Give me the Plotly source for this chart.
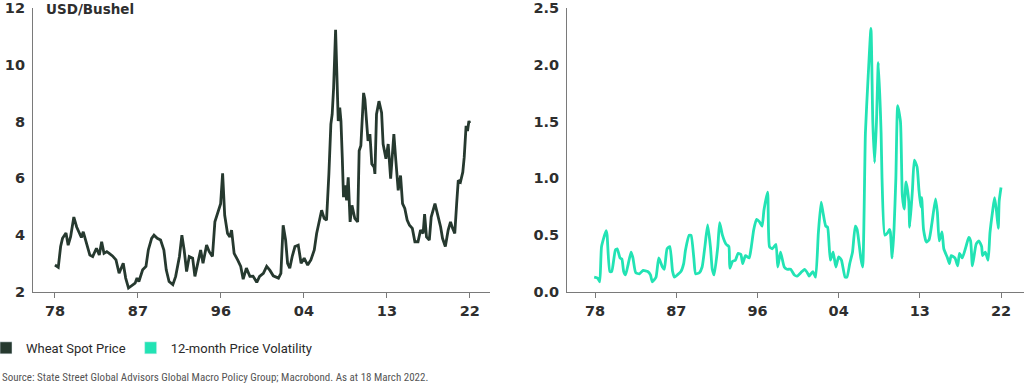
import plotly.graph_objects as go
from plotly.subplots import make_subplots

# ---- Data ----
price_year = [1978.0, 1978.35, 1978.6, 1978.8, 1979.17, 1979.4, 1979.66, 1980.0, 1980.3, 1980.6,
              1980.8, 1981.0, 1981.36, 1981.7, 1982.0, 1982.4, 1982.7, 1982.95, 1983.2, 1983.5,
              1983.75, 1984.1, 1984.47, 1984.8, 1985.24, 1985.5, 1985.8, 1986.1, 1986.5, 1986.7,
              1986.9, 1987.3, 1987.65, 1987.9, 1988.25, 1988.5, 1988.85, 1989.2, 1989.55, 1989.8,
              1990.1, 1990.5, 1990.8, 1991.2, 1991.46, 1991.7, 1991.96, 1992.24, 1992.6, 1992.84,
              1993.2, 1993.45, 1993.7, 1994.08, 1994.36, 1994.7, 1994.96, 1995.3, 1995.57, 1995.78,
              1996.0, 1996.3, 1996.55, 1996.73, 1997.0, 1997.37, 1997.7, 1997.96, 1998.3, 1998.67,
              1999.0, 1999.4, 1999.7, 2000.1, 2000.45, 2000.8, 2001.15, 2001.7, 2001.96, 2002.2,
              2002.46, 2002.67, 2002.9, 2003.16, 2003.45, 2003.8, 2004.1, 2004.43, 2004.8, 2005.14,
              2005.5, 2005.75, 2006.0, 2006.28, 2006.55, 2006.8, 2007.05, 2007.26, 2007.4, 2007.55,
              2007.76, 2007.9, 2008.04, 2008.2, 2008.33, 2008.47, 2008.6, 2008.75, 2008.93, 2009.1,
              2009.3, 2009.5, 2009.8, 2010.1, 2010.26, 2010.44, 2010.58, 2010.73, 2010.87, 2011.05,
              2011.2, 2011.4, 2011.6, 2011.85, 2011.93, 2012.1, 2012.36, 2012.64, 2012.8, 2013.1,
              2013.34, 2013.6, 2013.94, 2014.15, 2014.4, 2014.65, 2014.86, 2015.1, 2015.35, 2015.6,
              2015.9, 2016.17, 2016.5, 2016.77, 2017.04, 2017.2, 2017.4, 2017.7, 2017.9, 2018.3,
              2018.64, 2018.9, 2019.1, 2019.4, 2019.7, 2019.95, 2020.17, 2020.4, 2020.6, 2020.77,
              2021.0, 2021.25, 2021.4, 2021.6, 2021.75, 2021.9, 2022.0]
price_val = [2.95, 2.87, 3.6, 3.89, 4.08, 3.65, 3.95, 4.64, 4.29, 4.06,
             3.92, 4.12, 3.71, 3.30, 3.25, 3.54, 3.30, 3.77, 3.36, 3.42,
             3.36, 3.27, 3.13, 2.66, 3.01, 2.49, 2.14, 2.2, 2.31, 2.49,
             2.37, 2.78, 2.9, 3.48, 3.89, 4.0, 3.89, 3.83, 3.48, 2.78,
             2.37, 2.26, 2.55, 3.25, 4.0, 3.48, 2.72, 3.25, 3.19, 2.55,
             3.13, 3.48, 3.01, 3.65, 3.42, 3.25, 4.47, 4.82, 5.11, 6.18,
             4.7, 4.06, 3.94, 4.18, 3.36, 3.13, 2.9, 2.45, 2.84, 2.55,
             2.56, 2.34, 2.55, 2.66, 2.9, 2.76, 2.57, 2.49, 2.66, 4.35,
             3.83, 3.01, 2.84, 3.25, 3.6, 3.65, 3.01, 3.19, 2.95, 3.13,
             3.48, 4.06, 4.47, 4.88, 4.59, 4.53, 6.16, 7.91, 8.26, 9.19,
             11.23, 9.19, 8.02, 8.49, 8.02, 6.74, 5.34, 5.75, 5.23, 6.04,
             4.47, 5.05, 4.59, 4.47, 6.97, 7.15, 8.26, 9.01, 8.78, 8.02,
             7.32, 7.56, 6.51, 6.39, 6.16, 8.26, 8.72, 8.31, 7.21, 6.69,
             7.21, 5.99, 7.56, 6.63, 5.58, 6.10, 5.11, 4.94, 4.53, 4.35,
             4.24, 3.77, 3.77, 4.18, 4.06, 4.74, 3.94, 3.83, 4.64, 5.11,
             4.64, 4.29, 3.89, 3.6, 4.18, 4.47, 4.24, 4.06, 5.11, 5.93,
             5.87, 6.22, 6.74, 7.85, 7.67, 8.02, 7.95]

vol_year = [1977.9, 1978.3, 1978.5, 1978.7, 1979.2, 1979.3, 1979.6, 1979.8, 1980.2, 1980.4,
            1980.7, 1980.9, 1981.1, 1981.3, 1981.6, 1981.9, 1982.1, 1982.4, 1982.8, 1983.2,
            1983.7, 1984.0, 1984.2, 1984.6, 1984.9, 1985.3, 1985.5, 1985.8, 1986.1, 1986.4,
            1986.6, 1986.9, 1987.3, 1987.6, 1987.8, 1988.2, 1988.4, 1988.7, 1988.9, 1989.3,
            1989.6, 1989.9, 1990.2, 1990.5, 1990.7, 1990.9, 1991.3, 1991.5, 1991.8, 1992.2,
            1992.5, 1992.6, 1992.9, 1993.2, 1993.5, 1993.8, 1994.0, 1994.3, 1994.7, 1994.9,
            1995.2, 1995.5, 1995.8, 1996.1, 1996.3, 1996.7, 1996.9, 1997.2, 1997.6, 1997.8,
            1998.1, 1998.5, 1998.8, 1999.2, 1999.6, 1999.9, 2000.3, 2000.7, 2001.0, 2001.2,
            2001.6, 2001.9, 2002.2, 2002.5, 2002.7, 2003.0, 2003.2, 2003.5, 2003.8, 2004.1,
            2004.4, 2004.7, 2005.1, 2005.3, 2005.6, 2005.9, 2006.2, 2006.4, 2006.8, 2007.0,
            2007.3, 2007.6, 2007.9, 2008.1, 2008.3, 2008.5, 2008.7, 2009.0, 2009.1, 2009.4,
            2009.7, 2009.9, 2010.0, 2010.2, 2010.4, 2010.6, 2010.8, 2011.1, 2011.3, 2011.5,
            2011.7, 2012.0, 2012.1, 2012.4, 2012.6, 2012.9, 2013.1, 2013.3, 2013.4, 2013.6,
            2013.9, 2014.2, 2014.5, 2014.9, 2015.1, 2015.3, 2015.6, 2015.8, 2016.2, 2016.4,
            2016.6, 2017.0, 2017.3, 2017.5, 2017.8, 2018.2, 2018.5, 2018.7, 2018.9, 2019.3,
            2019.6, 2019.9, 2020.0, 2020.3, 2020.6, 2020.8, 2021.1, 2021.3, 2021.5, 2021.7,
            2021.8, 2022.0]
vol_val = [0.13, 0.12, 0.09, 0.40, 0.54, 0.50, 0.18, 0.18, 0.37, 0.38,
           0.30, 0.29, 0.18, 0.15, 0.25, 0.35, 0.30, 0.17, 0.16, 0.19,
           0.18, 0.15, 0.09, 0.13, 0.30, 0.22, 0.20, 0.38, 0.40, 0.18,
           0.13, 0.15, 0.18, 0.25, 0.37, 0.50, 0.50, 0.30, 0.16, 0.17,
           0.22, 0.40, 0.59, 0.40, 0.20, 0.15, 0.40, 0.61, 0.50, 0.42,
           0.40, 0.21, 0.27, 0.28, 0.34, 0.33, 0.25, 0.32, 0.30, 0.38,
           0.55, 0.64, 0.62, 0.58, 0.72, 0.88, 0.40, 0.38, 0.42, 0.22,
           0.35, 0.22, 0.20, 0.20, 0.15, 0.14, 0.17, 0.20, 0.17, 0.14,
           0.18, 0.13, 0.52, 0.79, 0.70, 0.58, 0.57, 0.28, 0.35, 0.22,
           0.31, 0.28, 0.13, 0.13, 0.25, 0.35, 0.58, 0.55, 0.30, 0.22,
           1.40, 1.90, 2.32, 1.50, 1.14, 1.50, 2.02, 1.40, 1.00, 0.50,
           0.52, 0.55, 0.53, 0.30, 0.55, 1.00, 1.64, 1.50, 0.85, 0.73,
           0.97, 0.80, 0.57, 0.90, 1.16, 1.10, 0.90, 0.75, 0.83, 0.55,
           0.44, 0.46, 0.60, 0.82, 0.70, 0.45, 0.53, 0.38, 0.30, 0.25,
           0.32, 0.30, 0.23, 0.34, 0.30, 0.40, 0.48, 0.45, 0.23, 0.42,
           0.45, 0.40, 0.32, 0.35, 0.28, 0.52, 0.72, 0.83, 0.72, 0.56,
           0.80, 0.92]

tick_years = [1978, 1986.8, 1995.6, 2004.4, 2013.2, 2022]
tick_text = ["78", "87", "96", "04", "13", "22"]

price_ticks = [2, 4, 6, 8, 10, 12]
vol_ticks = [0.0, 0.5, 1.0, 1.5, 2.0, 2.5]

DARK = "#26392f"
TEAL = "#22e3b4"
AXIS = "#7a7a7a"
TXT = "#2e2e2e"

fig = make_subplots(rows=1, cols=2)

fig.add_trace(go.Scatter(x=price_year, y=price_val, mode="lines",
                         line=dict(color=DARK, width=2.8), showlegend=False,
                         name="Wheat Spot Price"), row=1, col=1)
fig.add_trace(go.Scatter(x=vol_year, y=vol_val, mode="lines",
                         line=dict(color=TEAL, width=2.8, shape="spline", smoothing=0.5),
                         showlegend=False, name="12-month Price Volatility"), row=1, col=2)

# legend entries (square swatches)
fig.add_trace(go.Bar(x=[None], y=[None], name="Wheat Spot Price",
                     marker=dict(color=DARK), showlegend=True), row=1, col=1)
fig.add_trace(go.Bar(x=[None], y=[None], name="12-month Price Volatility",
                     marker=dict(color=TEAL), showlegend=True), row=1, col=2)

tickfont = dict(family="DejaVu Sans", size=14.5, color=TXT, weight="bold")

common_x = dict(tickmode="array", tickvals=tick_years, ticktext=tick_text,
                showgrid=False, zeroline=False, showline=True, linecolor=AXIS,
                linewidth=1.2, ticks="outside", ticklen=5, tickcolor=AXIS,
                tickfont=tickfont)
common_y = dict(showgrid=False, zeroline=False, showline=True, linecolor=AXIS,
                linewidth=1.2, ticks="", tickfont=tickfont,
                ticklabeloverflow="allow", automargin=False)

fig.update_xaxes(common_x)
fig.update_yaxes(common_y)

fig.update_layout(
    xaxis=dict(domain=[0, 0.461], range=[1975.67, 2024.12]),
    xaxis2=dict(domain=[0.539, 1.0], range=[1974.97, 2024.49]),
    yaxis=dict(range=[2, 12], tickvals=price_ticks, ticklabelstandoff=4),
    yaxis2=dict(range=[0, 2.5], tickvals=vol_ticks, tickformat=".1f", ticklabelstandoff=4),
    width=1024, height=390,
    margin=dict(l=33, r=0, t=8, b=98, autoexpand=False),
    paper_bgcolor="white", plot_bgcolor="white",
    showlegend=True,
    legend=dict(orientation="h", xref="paper", yref="container",
                x=-0.0474, y=0.108, xanchor="left", yanchor="middle",
                font=dict(family="Roboto", size=13, color="#2a2a2a"),
                itemwidth=30, bgcolor="rgba(0,0,0,0)", traceorder="normal"),
    annotations=[
        dict(text="USD/Bushel", xref="paper", yref="paper", x=0.0111, y=0.9965,
             xanchor="left", yanchor="middle", showarrow=False,
             font=dict(family="DejaVu Sans", size=13.5, color=TXT, weight="bold")),
        dict(text="Source: State Street Global Advisors Global Macro Policy Group; Macrobond. As at 18 March 2022.",
             xref="paper", yref="paper", x=-0.0333, y=-0.3, xanchor="left", yanchor="middle",
             showarrow=False,
             font=dict(family="Liberation Sans Narrow, Roboto Condensed, Roboto", size=11, color="#555555")),
    ],
)

fig.write_html("out.html", config={"displayModeBar": False},
               post_script="document.body.style.margin='0';")
